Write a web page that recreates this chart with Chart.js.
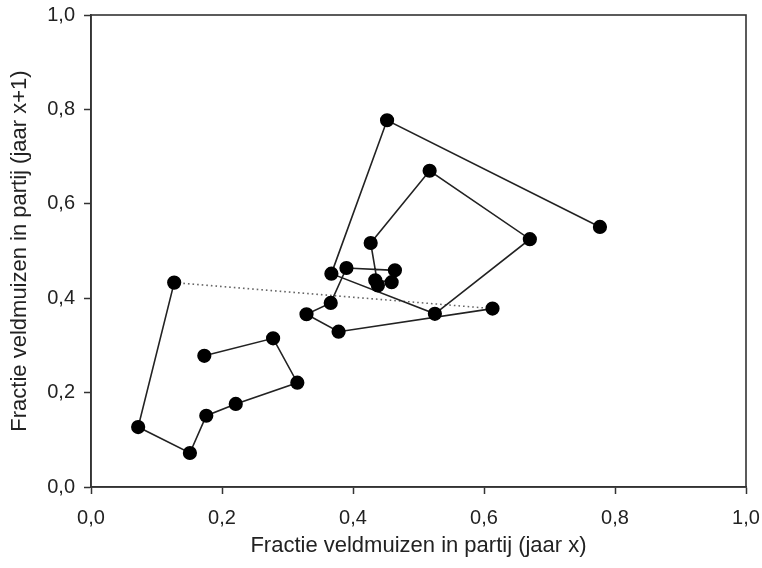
<!DOCTYPE html>
<html>
<head>
<meta charset="utf-8">
<script src="https://cdn.jsdelivr.net/npm/chart.js@4/dist/chart.umd.min.js"></script>
<style>
  html, body { margin: 0; padding: 0; background: #fff; }
  #wrap { width: 762px; height: 568px; }
</style>
</head>
<body>
<div id="wrap"><canvas id="c" width="762" height="568"></canvas></div>
<script>
// Yearly fraction of field voles in each batch; each point is (year x, year x+1)
const fractiesReeksA = [0.173, 0.278, 0.315, 0.221, 0.176, 0.151, 0.072, 0.127, 0.433];
const fractiesReeksB = [0.613, 0.378, 0.329, 0.366, 0.390, 0.464, 0.459, 0.434, 0.438,
                        0.427, 0.517, 0.670, 0.525, 0.367, 0.452, 0.777, 0.551];
const tickLabels = ['0,0', '0,2', '0,4', '0,6', '0,8', '1,0'];
const xTitle = 'Fractie veldmuizen in partij (jaar x)';
const yTitle = 'Fractie veldmuizen in partij (jaar x+1)';

function toPairs(series) {
  const pts = [];
  for (let i = 0; i < series.length - 1; i++) {
    pts.push({ x: series[i], y: series[i + 1] });
  }
  return pts;
}

const puntenA = toPairs(fractiesReeksA);
const puntenB = toPairs(fractiesReeksB);
// dotted link across the missing year
const overgang = [puntenA[puntenA.length - 1], puntenB[0]];

const FONT = "'Liberation Sans', Arial, sans-serif";
const INK = '#222';

const frame = {
  id: 'frame',
  afterDraw(chart) {
    const { ctx, chartArea: a } = chart;
    ctx.save();
    ctx.strokeStyle = '#333';
    ctx.lineWidth = 1.6;
    ctx.strokeRect(a.left, a.top, a.right - a.left, a.bottom - a.top);
    ctx.restore();
  }
};

const lineStyle = {
  showLine: true,
  borderColor: '#222',
  borderWidth: 1.6,
  backgroundColor: '#000',
  pointBackgroundColor: '#000',
  pointBorderColor: '#000',
  pointRadius: 6.3,
  pointHoverRadius: 6.3,
  tension: 0
};

// edge labels may overhang the plot frame, so no extra room is reserved for them
function noEdgePadding(s) {
  s.paddingLeft = 0; s.paddingRight = 0;
  s.paddingTop = 0; s.paddingBottom = 0;
}

const axisCommon = {
  type: 'linear',
  min: 0, max: 1,
  afterBuildTicks(s) { s.ticks = tickLabels.map((_, i) => ({ value: i * 0.2 })); },
  grid: { drawOnChartArea: false, drawTicks: true, tickLength: 7, tickColor: '#333', tickWidth: 1.5 },
  border: { display: true, color: '#333', width: 1.6 }
};

new Chart(document.getElementById('c'), {
  type: 'scatter',
  data: {
    datasets: [
      {
        data: overgang,
        showLine: true,
        borderColor: '#666',
        borderWidth: 1.6,
        borderDash: [1.6, 3],
        pointRadius: 0,
        order: 3
      },
      Object.assign({ data: puntenA, order: 1 }, lineStyle),
      Object.assign({ data: puntenB, order: 2 }, lineStyle)
    ]
  },
  options: {
    responsive: false,
    animation: false,
    events: [],
    layout: { padding: { top: 15, right: 16, left: 0, bottom: 0 } },
    plugins: { legend: { display: false }, tooltip: { enabled: false } },
    scales: {
      x: Object.assign({}, axisCommon, {
        position: 'bottom',
        afterFit(s) { s.height = 81; noEdgePadding(s); },
        ticks: {
          padding: 12,
          color: INK,
          font: { family: FONT, size: 20 },
          callback: (v, i) => tickLabels[i]
        },
        title: {
          display: true, text: xTitle, color: INK,
          font: { family: FONT, size: 22 },
          padding: { top: 0, bottom: 9 }
        }
      }),
      y: Object.assign({}, axisCommon, {
        position: 'left',
        afterFit(s) { s.width = 91; noEdgePadding(s); },
        ticks: {
          padding: 9,
          color: INK,
          font: { family: FONT, size: 20 },
          callback: (v, i) => tickLabels[i]
        },
        title: {
          display: true, text: yTitle, color: INK,
          font: { family: FONT, size: 22 },
          padding: { top: 7, bottom: 0 }
        }
      })
    }
  },
  plugins: [frame]
});
</script>
</body>
</html>
